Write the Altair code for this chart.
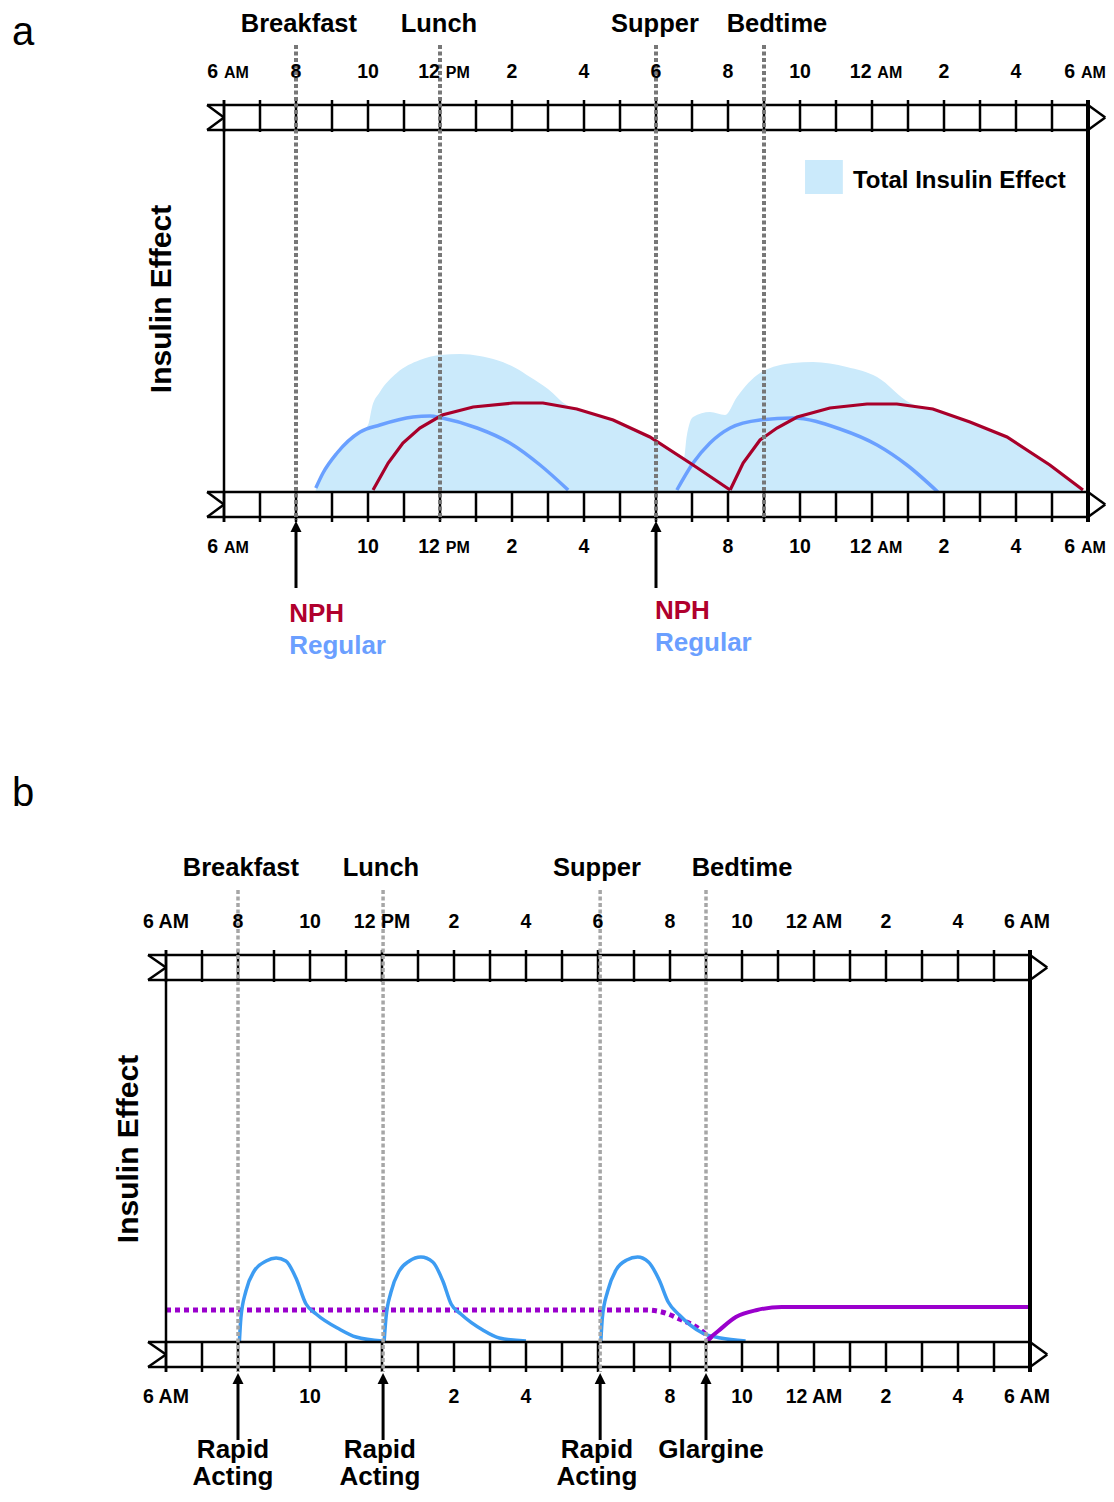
import altair as alt
import pandas as pd

FONT = "Liberation Sans"
PX = 36.0          # pixels per hour on both panels
W = 1098           # whole chart width  (page x 8 .. 1106)
H = 1484           # whole chart height (page y 8 .. 1492)

# ---------------- shared clock (hours after 6 AM) ----------------
HOUR_TICKS = list(range(25))
LABEL_HOURS = list(range(0, 25, 2))
LABEL_NUMS = ["6", "8", "10", "12", "2", "4", "6", "8", "10", "12", "2", "4", "6"]
LABEL_SUFFIX = ["AM", "", "", "PM", "", "", "", "", "", "AM", "", "", "AM"]
MEAL_NAMES = ["Breakfast", "Lunch", "Supper", "Bedtime"]

# ---------------- panel a ----------------
A_MEAL_HOURS = [2, 6, 12, 15]
A_MEAL_LABEL_HOURS = [2.08, 5.97, 11.97, 15.36]
A_BOTTOM_LABEL_HOURS = [0, 4, 6, 8, 10, 14, 16, 18, 20, 22, 24]
A_INJ_HOURS = [2, 12]
A_INJ_LABEL_HOURS = [1.81, 11.97]

A_REG1_H = [2.55, 2.75, 3.14, 3.78, 4.33, 5.25, 5.72, 6.06, 7.03, 7.94, 8.78, 9.56]
A_REG1_V = [4, 19, 39, 60, 67, 75, 76, 74, 64, 49, 27, 2]
A_REG2_H = [12.58, 13.03, 13.5, 14.06, 14.89, 15.8, 17.11, 18.14, 18.97, 19.83]
A_REG2_V = [2, 29, 49, 64, 72, 74, 63, 47, 27, 0]
A_NPH1_H = [4.14, 4.56, 4.97, 5.44, 6.06, 6.92, 8.03, 8.86, 9.8, 10.81, 11.83, 13.03, 14.06]
A_NPH1_V = [2, 29, 49, 64, 77, 85, 89, 89, 83, 72, 55, 27, 2]
A_NPH2_H = [14.06, 14.42, 14.89, 15.36, 15.92, 16.83, 17.86, 18.69, 19.69, 20.72, 21.75, 22.94, 23.86]
A_NPH2_V = [2, 29, 52, 64, 75, 84, 88, 88, 83, 70, 55, 27, 2]
A_TOTAL_H = [2.55, 2.75, 3.14, 3.5, 3.78, 4.0, 4.12, 4.33, 4.8, 5.44, 6.0, 6.56, 7.1, 7.57,
             8.1, 8.5, 9.0, 9.52, 9.8, 10.81, 11.83, 12.5, 12.78, 12.85, 13.03, 13.5, 13.92,
             14.25, 14.89, 15.8, 16.36, 17.3, 18.14, 19.06, 19.69, 20.72, 21.75, 22.94, 23.86]
A_TOTAL_V = [4, 19, 39, 52, 60, 67, 86, 100, 119, 132, 137, 138, 136, 132,
             124, 115, 103, 87, 83, 72, 55, 40, 34, 55, 75, 80, 77,
             95, 119, 129, 130, 125, 115, 89, 83, 70, 55, 27, 2]
A_LEGEND_LABEL = "Total Insulin Effect"

# ---------------- panel b ----------------
B_MEAL_HOURS = [2, 6.03, 12.06, 15]
B_MEAL_LABEL_HOURS = [2.08, 5.97, 11.97, 16.0]
B_BOTTOM_LABEL_HOURS = [0, 4, 8, 10, 14, 16, 18, 20, 22, 24]
B_INJ_HOURS = [2, 6.03, 12.06, 15]
B_INJ_LABEL_HOURS = [1.86, 5.94, 11.97, 15.14]
B_INJ_LINE1 = ["Rapid", "Rapid", "Rapid", "Glargine"]
B_INJ_LINE2 = ["Acting", "Acting", "Acting", ""]

B_RAPID1_H = [2.04, 2.08, 2.22, 2.45, 2.78, 3.06, 3.33, 3.61, 3.89, 4.17, 4.81, 5.28, 6.02]
B_RAPID1_V = [1, 24, 51, 71, 81, 84, 81, 64, 38, 28, 13, 5, 1]
B_RAPID2_H = [6.06, 6.11, 6.25, 6.48, 6.76, 7.08, 7.41, 7.69, 7.92, 8.19, 8.8, 9.26, 10.0]
B_RAPID2_V = [1, 24, 50, 71, 81, 85, 80, 61, 38, 28, 12, 4, 1]
B_RAPID3_H = [12.08, 12.12, 12.27, 12.5, 12.8, 13.1, 13.4, 13.7, 13.95, 14.26, 14.9, 15.4, 16.1]
B_RAPID3_V = [1, 24, 51, 72, 82, 85, 80, 62, 40, 27, 9, 4, 1]
B_BASAL_OLD_H = [0, 13.3, 13.77, 14.26, 14.85, 15.15]
B_BASAL_OLD_V = [32, 32, 30, 23, 12, 2]
B_GLARGINE_H = [15.0, 15.34, 15.83, 16.42, 17.1, 18.8, 24.0]
B_GLARGINE_V = [1, 11, 25, 32, 35, 35, 35]

# ---------------- colours ----------------
RED = "#a8002a"
REG_BLUE = "#6aa0ff"
AREA = "#cbeafb"
RAPID_BLUE = "#3d9cf2"
PURPLE = "#9a00cc"


def df(h, v):
    return pd.DataFrame({"h": h, "v": v})


def build_panel(p):
    xs = alt.Scale(domain=p["xdom"], nice=False, zero=False)
    ys = alt.Scale(domain=p["ydom"], nice=False, zero=False)

    def X(f="h"):
        return alt.X(f"{f}:Q", scale=xs, axis=None)

    def Y(f="v"):
        return alt.Y(f"{f}:Q", scale=ys, axis=None)

    layers = []
    layers += p["curves"](X, Y)

    band_rows, chev_rows, tick_rows = [], [], []
    for hi, lo, t_hi, t_lo in [(387, 362, 392, 360), (0, -25, 0, -30)]:
        band_rows += [{"h": p["left_end"], "h2": 24, "v": hi}, {"h": p["left_end"], "h2": 24, "v": lo}]
        mid = (hi + lo) / 2
        chev_rows += [
            {"h": p["left_end"], "v": hi, "h2": 0, "v2": mid},
            {"h": 0, "v": mid, "h2": p["left_end"], "v2": lo},
            {"h": 24, "v": hi, "h2": 24.48, "v2": mid},
            {"h": 24.48, "v": mid, "h2": 24, "v2": lo},
        ]
        for hr in HOUR_TICKS:
            tick_rows.append({"h": hr, "v": t_hi, "v2": t_lo})
    layers.append(alt.Chart(pd.DataFrame(band_rows)).mark_rule(color="black", strokeWidth=2.5)
                  .encode(x=X(), x2="h2:Q", y=Y()))
    layers.append(alt.Chart(pd.DataFrame(chev_rows)).mark_rule(color="black", strokeWidth=2.5)
                  .encode(x=X(), x2="h2:Q", y=Y(), y2="v2:Q"))
    layers.append(alt.Chart(pd.DataFrame(tick_rows)).mark_rule(color="black", strokeWidth=2.5)
                  .encode(x=X(), y=Y(), y2="v2:Q"))
    layers.append(alt.Chart(pd.DataFrame({"h": [0], "v": [392], "v2": [-30]}))
                  .mark_rule(color="black", strokeWidth=2.5).encode(x=X(), y=Y(), y2="v2:Q"))
    layers.append(alt.Chart(pd.DataFrame({"h": [24], "v": [392], "v2": [-30]}))
                  .mark_rule(color="black", strokeWidth=4).encode(x=X(), y=Y(), y2="v2:Q"))

    # meal dashed lines
    layers.append(alt.Chart(pd.DataFrame({"h": p["meal_hours"], "v": [p["dash_top"]] * 4,
                                          "v2": [p["dash_bot"]] * 4}))
                  .mark_rule(color=p["dash_color"], strokeWidth=p["dash_width"], strokeDash=[4, 2.5])
                  .encode(x=X(), y=Y(), y2="v2:Q"))

    layers.append(alt.Chart(pd.DataFrame({"h": p["meal_label_hours"], "v": [p["meal_v"]] * 4,
                                          "t": MEAL_NAMES}))
                  .mark_text(font=FONT, fontSize=25.5, fontWeight="bold", align="center",
                             baseline="alphabetic", color="black")
                  .encode(x=X(), y=Y(), text="t:N"))

    # tick labels
    for hours_sel, vb in [(LABEL_HOURS, 414), (p["bottom_label_hours"], -61)]:
        num_rows, suf_rows = [], []
        for h, n, s in zip(LABEL_HOURS, LABEL_NUMS, LABEL_SUFFIX):
            if h not in hours_sel:
                continue
            shift = 0
            if s:
                shift = -3 if h == 24 else (4 if p["split_suffix"] else 0)
            if p["split_suffix"] and s:
                nw = 0.556 * 19.5 * len(n)
                sw = (1.555 if s == "AM" else 1.5) * 16
                gap = 0.3 * 19.5
                left = shift - (nw + gap + sw) / 2
                num_rows.append({"h": h + (left + nw / 2) / PX, "v": vb, "t": n})
                suf_rows.append({"h": h + (left + nw + gap + sw / 2) / PX, "v": vb, "t": s})
            else:
                num_rows.append({"h": h + shift / PX, "v": vb, "t": (n + " " + s).strip()})
        layers.append(alt.Chart(pd.DataFrame(num_rows))
                      .mark_text(font=FONT, fontSize=19.5, fontWeight="bold", align="center",
                                 baseline="alphabetic", color="black")
                      .encode(x=X(), y=Y(), text="t:N"))
        if suf_rows:
            layers.append(alt.Chart(pd.DataFrame(suf_rows))
                          .mark_text(font=FONT, fontSize=16, fontWeight="bold", align="center",
                                     baseline="alphabetic", color="black")
                          .encode(x=X(), y=Y(), text="t:N"))

    # injection arrows
    n_inj = len(p["inj_hours"])
    layers.append(alt.Chart(pd.DataFrame({"h": p["inj_hours"], "v": [p["arrow_tail"]] * n_inj,
                                          "v2": [p["arrow_tip"] - 8] * n_inj}))
                  .mark_rule(color="black", strokeWidth=3).encode(x=X(), y=Y(), y2="v2:Q"))
    layers.append(alt.Chart(pd.DataFrame({"h": p["inj_hours"], "v": [p["arrow_tip"] - 5.5] * n_inj}))
                  .mark_point(shape="M0,-1L1,1L-1,1Z", size=121, filled=True, color="black",
                              opacity=1, strokeWidth=0)
                  .encode(x=X(), y=Y()))

    layers += p["inj_labels"](X, Y)

    layers.append(alt.Chart(pd.DataFrame({"h": [p["ytitle_h"]], "v": [193], "t": ["Insulin Effect"]}))
                  .mark_text(font=FONT, fontSize=30, fontWeight="bold", angle=270, align="center",
                             baseline="alphabetic", color="black")
                  .encode(x=X(), y=Y(), text="t:N"))
    layers.append(alt.Chart(pd.DataFrame({"h": [p["letter_h"]], "v": [p["letter_v"]], "t": [p["letter"]]}))
                  .mark_text(font=FONT, fontSize=40, fontWeight="normal", align="left",
                             baseline="alphabetic", color="black")
                  .encode(x=X(), y=Y(), text="t:N"))

    layers += p["extra"](X, Y)
    return alt.layer(*layers)


def curves_a(X, Y):
    out = [alt.Chart(df(A_TOTAL_H, A_TOTAL_V)).mark_area(color=AREA, interpolate="monotone", opacity=1)
           .encode(x=X(), y=Y(), y2=alt.datum(0))]
    for hh, vv in [(A_REG1_H, A_REG1_V), (A_REG2_H, A_REG2_V)]:
        out.append(alt.Chart(df(hh, vv)).mark_line(color=REG_BLUE, strokeWidth=3.5, interpolate="monotone")
                   .encode(x=X(), y=Y(), order="h:Q"))
    for hh, vv in [(A_NPH1_H, A_NPH1_V), (A_NPH2_H, A_NPH2_V)]:
        out.append(alt.Chart(df(hh, vv)).mark_line(color=RED, strokeWidth=3.2, interpolate="linear")
                   .encode(x=X(), y=Y(), order="h:Q"))
    return out


def inj_labels_a(X, Y):
    return [
        alt.Chart(pd.DataFrame({"h": A_INJ_LABEL_HOURS, "v": [-130, -127], "t": ["NPH", "NPH"]}))
        .mark_text(font=FONT, fontSize=26, fontWeight="bold", align="left", baseline="alphabetic",
                   color="#b0002d")
        .encode(x=X(), y=Y(), text="t:N"),
        alt.Chart(pd.DataFrame({"h": A_INJ_LABEL_HOURS, "v": [-162, -159], "t": ["Regular", "Regular"]}))
        .mark_text(font=FONT, fontSize=26, fontWeight="bold", align="left", baseline="alphabetic",
                   color="#6b9fff")
        .encode(x=X(), y=Y(), text="t:N"),
    ]


def extra_a(X, Y):
    return [
        alt.Chart(pd.DataFrame({"h": [16.14], "h2": [17.19], "v": [298], "v2": [332]}))
        .mark_rect(color=AREA).encode(x=X(), x2="h2:Q", y=Y(), y2="v2:Q"),
        alt.Chart(pd.DataFrame({"h": [17.47], "v": [304], "t": [A_LEGEND_LABEL]}))
        .mark_text(font=FONT, fontSize=24, fontWeight="bold", align="left", baseline="alphabetic",
                   color="black")
        .encode(x=X(), y=Y(), text="t:N"),
    ]


def curves_b(X, Y):
    out = [alt.Chart(df(B_BASAL_OLD_H, B_BASAL_OLD_V))
           .mark_line(color=PURPLE, strokeWidth=5, strokeDash=[5, 4], interpolate="monotone")
           .encode(x=X(), y=Y(), order="h:Q")]
    for hh, vv in [(B_RAPID1_H, B_RAPID1_V), (B_RAPID2_H, B_RAPID2_V), (B_RAPID3_H, B_RAPID3_V)]:
        out.append(alt.Chart(df(hh, vv)).mark_line(color=RAPID_BLUE, strokeWidth=3.5, interpolate="monotone")
                   .encode(x=X(), y=Y(), order="h:Q"))
    out.append(alt.Chart(df(B_GLARGINE_H, B_GLARGINE_V))
               .mark_line(color=PURPLE, strokeWidth=4, interpolate="monotone")
               .encode(x=X(), y=Y(), order="h:Q"))
    return out


def inj_labels_b(X, Y):
    rows = []
    for h, l1, l2 in zip(B_INJ_LABEL_HOURS, B_INJ_LINE1, B_INJ_LINE2):
        rows.append({"h": h, "v": -116, "t": l1})
        if l2:
            rows.append({"h": h, "v": -143, "t": l2})
    return [alt.Chart(pd.DataFrame(rows))
            .mark_text(font=FONT, fontSize=26, fontWeight="bold", align="center", baseline="alphabetic",
                       color="black")
            .encode(x=X(), y=Y(), text="t:N")]


# panel a: 6 AM at page x 224, baseline at page y 492
panel_a = build_panel(dict(
    xdom=[(8 - 224) / PX, (8 + W - 224) / PX], ydom=[492 - (8 + H), 492 - 8], left_end=-0.47,
    curves=curves_a, meal_hours=A_MEAL_HOURS, meal_label_hours=A_MEAL_LABEL_HOURS, meal_v=460,
    dash_top=447, dash_bot=-28, dash_color="#777777", dash_width=4,
    bottom_label_hours=A_BOTTOM_LABEL_HOURS, split_suffix=True,
    inj_hours=A_INJ_HOURS, arrow_tail=-96, arrow_tip=-29, inj_labels=inj_labels_a,
    ytitle_h=(171 - 224) / PX, letter="a", letter_h=(12 - 224) / PX, letter_v=447, extra=extra_a,
))

# panel b: 6 AM at page x 166, baseline at page y 1342
panel_b = build_panel(dict(
    xdom=[(8 - 166) / PX, (8 + W - 166) / PX], ydom=[1342 - (8 + H), 1342 - 8], left_end=-0.5,
    curves=curves_b, meal_hours=B_MEAL_HOURS, meal_label_hours=B_MEAL_LABEL_HOURS, meal_v=466,
    dash_top=452, dash_bot=-30, dash_color="#a6a6a6", dash_width=3.5,
    bottom_label_hours=B_BOTTOM_LABEL_HOURS, split_suffix=False,
    inj_hours=B_INJ_HOURS, arrow_tail=-98, arrow_tip=-31, inj_labels=inj_labels_b,
    ytitle_h=(138 - 166) / PX, letter="b", letter_h=(12 - 166) / PX, letter_v=536,
    extra=lambda X, Y: [],
))

chart = (alt.layer(panel_a, panel_b)
         .resolve_scale(x="independent", y="independent")
         .properties(width=W, height=H, padding=0, autosize=alt.AutoSizeParams(type="none"))
         .configure_view(stroke=None))

chart.save("out.html", embed_options={"renderer": "svg", "actions": False})
